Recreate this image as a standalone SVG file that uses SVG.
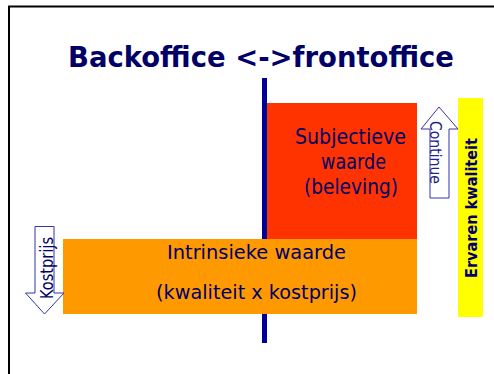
<svg xmlns="http://www.w3.org/2000/svg" width="494" height="374" viewBox="0 0 494 374">
<style>
text{font-family:"DejaVu Sans","Liberation Sans",sans-serif;fill:#000066}
.t{font-weight:bold;font-size:29px}
.lbl{font-size:21px}
.arr{fill:#ffffff;stroke:#3333aa;stroke-width:1}
</style>
<rect width="494" height="374" fill="#ffffff"/>
<path d="M9,374 V6.5 H494" fill="none" stroke="#000000" stroke-width="2"/>
<g id="title"><text class="t" x="68" y="67" textLength="386" lengthAdjust="spacingAndGlyphs">Backoffice &lt;-&gt;frontoffice</text></g>
<g id="divider"><rect x="262" y="78" width="5" height="265" fill="#000099"/></g>
<g id="subjectieve">
<rect x="267" y="103" width="150" height="136" fill="#ff3300"/>
<text class="lbl" x="350.5" y="144" text-anchor="middle" textLength="111" lengthAdjust="spacingAndGlyphs">Subjectieve</text>
<text class="lbl" x="353.5" y="169" text-anchor="middle" textLength="65" lengthAdjust="spacingAndGlyphs">waarde</text>
<text class="lbl" x="351" y="194" text-anchor="middle" textLength="94" lengthAdjust="spacingAndGlyphs">(beleving)</text>
</g>
<g id="intrinsieke">
<rect x="63" y="239" width="354" height="75" fill="#ff9900"/>
<text class="lbl" x="256.5" y="259" text-anchor="middle" style="font-size:20px" textLength="179" lengthAdjust="spacingAndGlyphs">Intrinsieke waarde</text>
<text class="lbl" x="256.5" y="299" text-anchor="middle" style="font-size:20px" textLength="201" lengthAdjust="spacingAndGlyphs">(kwaliteit x kostprijs)</text>
</g>
<g id="continue">
<polygon class="arr" points="439,107 458,129 449,129 449,198 430,198 430,129 421,129"/>
<text transform="translate(430,152.5) rotate(90)" x="0" y="0" text-anchor="middle" style="font-size:16px;fill:#222288" textLength="63" lengthAdjust="spacingAndGlyphs">Continue</text>
</g>
<g id="kostprijs">
<polygon class="arr" points="35,226.5 54,226.5 54,293 64,293 44.5,314 25.5,293 35,293"/>
<text transform="translate(53,268) rotate(-90)" x="0" y="0" text-anchor="middle" style="font-size:17px" textLength="62" lengthAdjust="spacingAndGlyphs">Kostprijs</text>
</g>
<g id="ervaren">
<rect x="458" y="98" width="25" height="219" fill="#ffff00"/>
<text transform="translate(477,208) rotate(-90)" x="0" y="0" text-anchor="middle" style="font-size:16px;font-weight:bold" textLength="140" lengthAdjust="spacingAndGlyphs">Ervaren kwaliteit</text>
</g>
<g id="connectors"></g>
</svg>
